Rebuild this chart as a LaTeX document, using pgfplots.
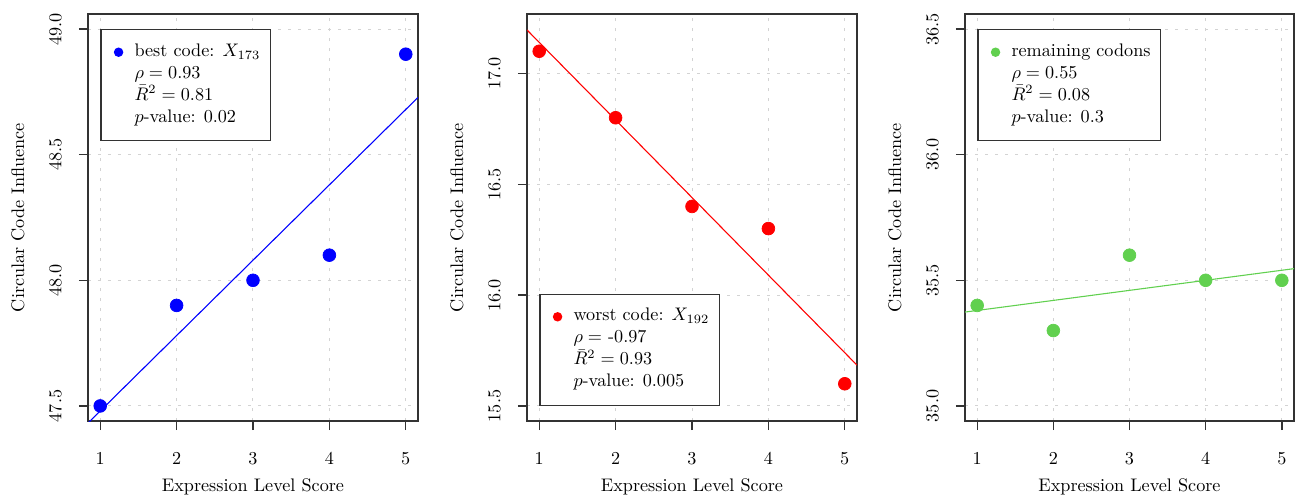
\documentclass[border=0pt]{standalone}
\usepackage{pgfplots}
\pgfplotsset{compat=1.18}
\definecolor{rgrid}{HTML}{D3D3D3}
\definecolor{rgreen}{HTML}{61D04F}
\definecolor{rframe}{HTML}{333333}
\pgfplotsset{
  rstyle/.style={
    scale only axis, width=181.5pt, height=223.85pt,
    xmin=0.84, xmax=5.16, xtick={1,2,3,4,5},
    tick align=outside, tick pos=left, major tick length=5pt,
    axis line style={rframe, line width=0.75pt},
    every tick/.style={rframe, line width=0.75pt},
    grid=major,
    major grid style={rgrid, dash pattern=on 1.6pt off 3.9pt, line width=0.55pt},
    xticklabel shift=8.8pt, yticklabel shift=6.1pt,
    yticklabel style={rotate=90, anchor=south, /pgf/number format/.cd, fixed, fixed zerofill, precision=1},
    xlabel={Expression Level Score}, ylabel={Circular Code Influence},
    xlabel style={at={(axis description cs:0.5,-0.16216)}, anchor=center},
    ylabel style={at={(axis description cs:-0.2121,0.5)}, anchor=center},
    legend cell align=left,
    legend style={draw=rframe, line width=0.75pt, fill=white, inner xsep=5.5pt, inner ysep=7.6pt,
      row sep=2.6pt, column sep=6.2pt,
      nodes={inner sep=0pt, text height=7pt, text depth=2.5pt}},
  },
}
\begin{document}
\begin{tikzpicture}
\useasboundingbox (0,0) rectangle (715.55pt,273.9pt);
% Panel 1
\begin{axis}[rstyle, at={(48.4pt,42.35pt)}, anchor=south west,
  ymin=47.44, ymax=49.06, ytick={47.5,48,48.5,49},
  legend style={at={(axis cs:1,49)}, anchor=north west}]
\addplot[only marks, mark=*, blue, mark size=3.5pt,
  legend image code/.code={\path (-3.85pt,0pt); \fill[blue] (0pt,0pt) circle (2.2pt);}]
  coordinates {(1,47.5) (2,47.9) (3,48.0) (4,48.1) (5,48.9)};
\addlegendentry{best code: $X_{173}$}
\addplot[blue, line width=0.6pt, forget plot] coordinates {(0.84,47.432) (5.16,48.728)};
\addlegendimage{empty legend}\addlegendentry{$\rho = 0.93$}
\addlegendimage{empty legend}\addlegendentry{$\bar{R}^2 = 0.81$}
\addlegendimage{empty legend}\addlegendentry{$p$-value: 0.02}
\end{axis}
% Panel 2
\begin{axis}[rstyle, at={(289.85pt,42.35pt)}, anchor=south west,
  ymin=15.432, ymax=17.268, ytick={15.5,16,16.5,17},
  legend style={at={(axis cs:1,15.5)}, anchor=south west}]
\addplot[only marks, mark=*, red, mark size=3.5pt,
  legend image code/.code={\path (-3.85pt,0pt); \fill[red] (0pt,0pt) circle (2.2pt);}]
  coordinates {(1,17.1) (2,16.8) (3,16.4) (4,16.3) (5,15.6)};
\addlegendentry{worst code: $X_{192}$}
\addplot[red, line width=0.6pt, forget plot] coordinates {(0.84,17.196) (5.16,15.684)};
\addlegendimage{empty legend}\addlegendentry{$\rho =$ -0.97}
\addlegendimage{empty legend}\addlegendentry{$\bar{R}^2 = 0.93$}
\addlegendimage{empty legend}\addlegendentry{$p$-value: 0.005}
\end{axis}
% Panel 3
\begin{axis}[rstyle, at={(530.75pt,42.35pt)}, anchor=south west, width=180.95pt,
  ymin=34.94, ymax=36.56, ytick={35,35.5,36,36.5},
  ylabel style={at={(axis description cs:-0.2128,0.5)}},
  legend style={at={(axis cs:1,36.5)}, anchor=north west}]
\addplot[only marks, mark=*, rgreen, mark size=3.5pt,
  legend image code/.code={\path (-3.85pt,0pt); \fill[rgreen] (0pt,0pt) circle (2.2pt);}]
  coordinates {(1,35.4) (2,35.3) (3,35.6) (4,35.5) (5,35.5)};
\addlegendentry{remaining codons}
\addplot[rgreen, line width=0.6pt, forget plot] coordinates {(0.84,35.3736) (5.16,35.5464)};
\addlegendimage{empty legend}\addlegendentry{$\rho = 0.55$}
\addlegendimage{empty legend}\addlegendentry{$\bar{R}^2 = 0.08$}
\addlegendimage{empty legend}\addlegendentry{$p$-value: 0.3}
\end{axis}
\end{tikzpicture}
\end{document}
